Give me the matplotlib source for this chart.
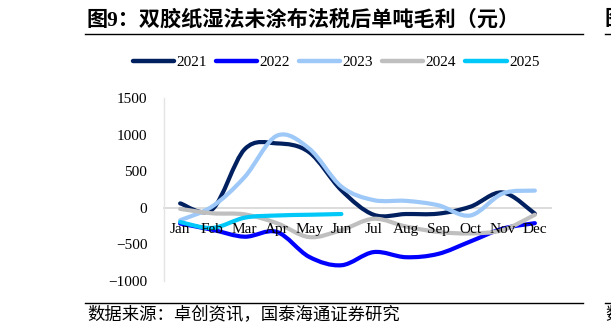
import numpy as np
import matplotlib
matplotlib.use("Agg")
import matplotlib.pyplot as plt
from matplotlib.path import Path
from matplotlib.patches import PathPatch
from matplotlib.lines import Line2D

plt.rcParams["font.family"] = ["Liberation Serif", "Noto Sans CJK SC"]

months = ["Jan", "Feb", "Mar", "Apr", "May", "Jun",
          "Jul", "Aug", "Sep", "Oct", "Nov", "Dec"]
years = ["2021", "2022", "2023", "2024", "2025"]

v2021 = [60, -20, 800, 880, 760, 240, -95, -85, -80, 15, 210, -80]
v2022 = [-215, -300, -395, -330, -670, -785, -605, -675, -630, -460, -285, -210]
v2023 = [-170, 20, 420, 985, 810, 290, 105, 95, 35, -105, 195, 235]
v2024 = [-15, -75, -90, -210, -400, -305, -150, -255, -330, -350, -305, -95]
v2025 = [-195, -275, -135, -105, -95, -85]

colors = ["#002060", "#0000FF", "#9DC8F8", "#BFBFBF", "#00C8F8"]
series = [v2021, v2022, v2023, v2024, v2025]


def smooth_path(xs, ys):
    # excel-like smoothed line: cubic bezier through every point
    pts = np.column_stack([xs, ys]).astype(float)
    n = len(pts)
    verts = [pts[0]]
    codes = [Path.MOVETO]
    for i in range(n - 1):
        p0 = pts[i - 1] if i > 0 else pts[i]
        p1 = pts[i]
        p2 = pts[i + 1]
        p3 = pts[i + 2] if i + 2 < n else pts[i + 1]
        c1 = p1 + (p2 - p0) / 6.0
        c2 = p2 - (p3 - p1) / 6.0
        verts += [c1, c2, p2]
        codes += [Path.CURVE4] * 3
    return Path(verts, codes)


fig = plt.figure(figsize=(6.11, 3.36), dpi=100)
ax = fig.add_axes([164 / 611, 1 - 281 / 336, (551 - 164) / 611, (281 - 98) / 336])

for vals, c in zip(series, colors):
    x = np.arange(len(vals))
    ax.add_patch(PathPatch(smooth_path(x, vals), facecolor="none", edgecolor=c,
                           lw=3.0, capstyle="round", joinstyle="round", zorder=3))

ax.set_xlim(-0.5, 11.5)
ax.set_ylim(-1000, 1500)
ax.set_yticks(np.arange(-1000, 1501, 500))
ax.set_xticks(np.arange(12))
ax.set_xticklabels(months)

for s in ["top", "right"]:
    ax.spines[s].set_visible(False)
ax.spines["bottom"].set_position(("data", 0))
ax.spines["bottom"].set_color("#D9D9D9")
ax.spines["bottom"].set_linewidth(1.3)
ax.spines["bottom"].set_zorder(1)
ax.spines["left"].set_color("#E4E4E4")
ax.spines["left"].set_linewidth(1.0)
ax.tick_params(axis="both", length=0, labelsize=11, colors="black")
ax.tick_params(axis="x", pad=11)
ax.tick_params(axis="y", pad=12)
# month labels sit on top of the lines
ax.xaxis.set_zorder(5)

handles = [Line2D([], [], color=c, lw=3.2, solid_capstyle="round") for c in colors]
fig.legend(handles, years, loc="center", bbox_to_anchor=(336 / 611, 1 - 62 / 336),
           ncol=5, frameon=False, fontsize=11, handlelength=2.7,
           handletextpad=0.15, columnspacing=0.6)

# header / footer
fig.text(87 / 611, 1 - 20 / 336, "图9：双胶纸湿法未涂布法税后单吨毛利（元）",
         fontsize=15.2, fontweight="bold", va="center", ha="left")
fig.add_artist(Line2D([85 / 611, 583 / 611], [1 - 34 / 336] * 2, color="black", lw=1.0))
fig.add_artist(Line2D([85 / 611, 583 / 611], [1 - 303 / 336] * 2, color="black", lw=1.0))
fig.text(87 / 611, 1 - 316 / 336, "数据来源：卓创资讯，国泰海通证券研究",
         fontsize=12.5, va="center", ha="left")

# edge of the neighbouring figure
fig.add_artist(Line2D([605 / 611, 1.0], [1 - 34 / 336] * 2, color="black", lw=1.0))
fig.add_artist(Line2D([605 / 611, 1.0], [1 - 303 / 336] * 2, color="black", lw=1.0))
fig.text(605 / 611, 1 - 20 / 336, "图", fontsize=15.2, fontweight="bold", va="center", ha="left")
fig.text(605 / 611, 1 - 316 / 336, "数", fontsize=12.5, va="center", ha="left")

fig.savefig("out.png", dpi=100)
